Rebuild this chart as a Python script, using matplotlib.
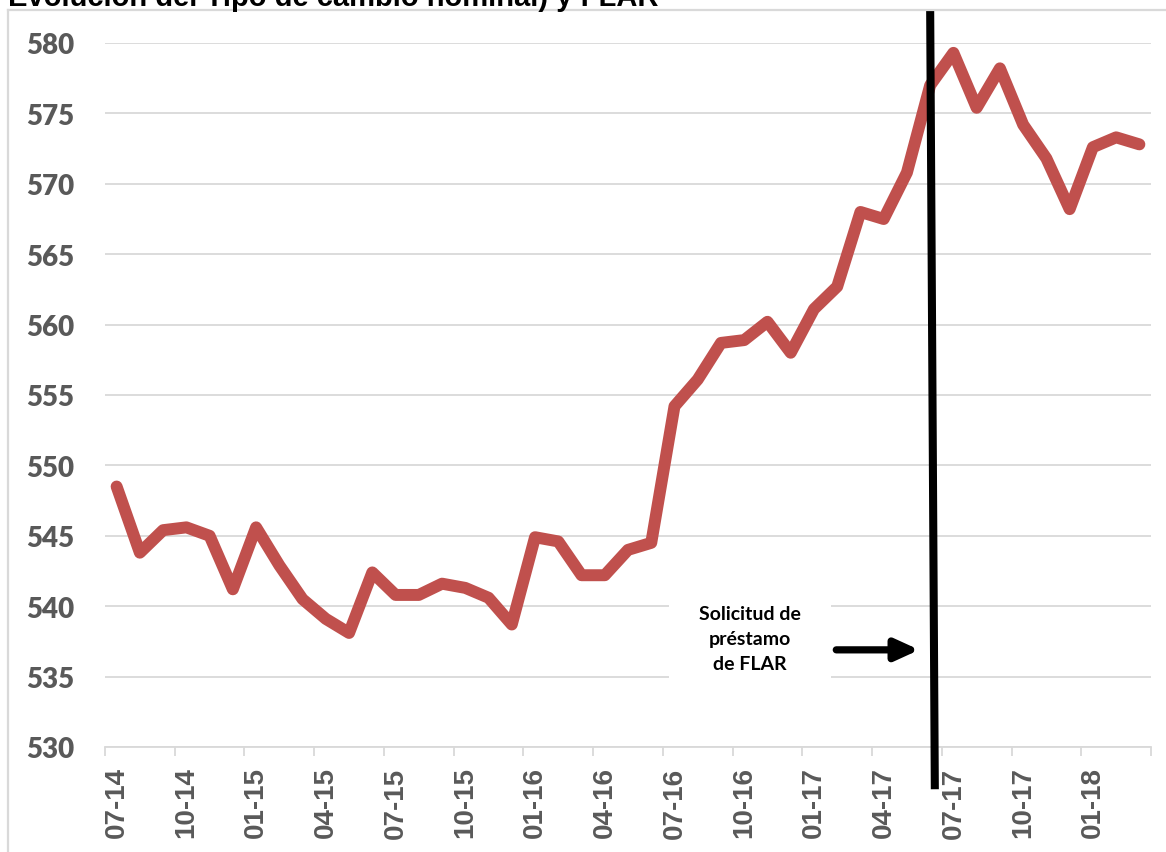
import matplotlib
matplotlib.use("Agg")
import matplotlib.pyplot as plt
from matplotlib.lines import Line2D
from matplotlib.ticker import FixedLocator, NullFormatter

# Monthly nominal exchange rate, Jul-2014 .. Mar-2018
months = [
    "07-14", "08-14", "09-14", "10-14", "11-14", "12-14",
    "01-15", "02-15", "03-15", "04-15", "05-15", "06-15",
    "07-15", "08-15", "09-15", "10-15", "11-15", "12-15",
    "01-16", "02-16", "03-16", "04-16", "05-16", "06-16",
    "07-16", "08-16", "09-16", "10-16", "11-16", "12-16",
    "01-17", "02-17", "03-17", "04-17", "05-17", "06-17",
    "07-17", "08-17", "09-17", "10-17", "11-17", "12-17",
    "01-18", "02-18", "03-18",
]
tipo_cambio = [
    548.5, 543.8, 545.4, 545.6, 545.0, 541.2,
    545.6, 542.9, 540.5, 539.1, 538.1, 542.4,
    540.8, 540.8, 541.6, 541.3, 540.6, 538.7,
    544.9, 544.6, 542.2, 542.2, 544.0, 544.5,
    554.2, 556.1, 558.7, 558.9, 560.2, 558.0,
    561.1, 562.7, 568.0, 567.5, 570.8, 577.0,
    579.3, 575.4, 578.2, 574.2, 571.8, 568.2,
    572.6, 573.3, 572.8,
]
y_ticks = [530, 535, 540, 545, 550, 555, 560, 565, 570, 575, 580]

title = "Evolución del Tipo de cambio nominal) y FLAR"
note = "Solicitud de\npréstamo\nde FLAR"

# Position of the FLAR loan request marker (category index of 06-17)
event_idx = months.index("06-17")

GRAY_TXT = "#595959"
GRID = "#D9D9D9"
RED = "#C0504D"

W, H = 1166, 853
fig = plt.figure(figsize=(W / 100, H / 100), dpi=100)
fig.patch.set_facecolor("white")

# Chart-area frame (left and top edges visible)
fig.add_artist(Line2D([8 / W, 8 / W], [0, (H - 11) / H], transform=fig.transFigure,
                      color=GRID, lw=1.6))
fig.add_artist(Line2D([8 / W, 1], [(H - 11) / H, (H - 11) / H], transform=fig.transFigure,
                      color=GRID, lw=1.6))

# Title, partly outside the canvas at the top
fig.text(8 / W, (H - 6) / H, title, family="Liberation Sans", weight="bold",
         fontsize=21, color="black", ha="left", va="baseline")

ax = fig.add_axes([105 / W, (H - 748) / H, 1046 / W, 704 / H])
n = len(months)
x = list(range(n))

ax.set_xlim(-0.5, n - 0.5)
ax.set_ylim(y_ticks[0], y_ticks[-1])

ax.plot(x, tipo_cambio, color=RED, lw=8.6, solid_joinstyle="round",
        solid_capstyle="round", zorder=3)

# Axes styling
for side in ("left", "right", "top"):
    ax.spines[side].set_visible(False)
ax.spines["bottom"].set_color(GRID)
ax.spines["bottom"].set_linewidth(1.3)
ax.spines["bottom"].set_zorder(1)

ax.set_yticks(y_ticks)
ax.set_yticklabels([str(v) for v in y_ticks], family="Lato", weight="heavy",
                   fontsize=20, color=GRAY_TXT)
ax.tick_params(axis="y", length=0, pad=22)
ax.yaxis.grid(True, color=GRID, lw=1.3, zorder=0)
ax.set_axisbelow(True)

label_idx = list(range(0, n, 3))
ax.set_xticks(label_idx)
ax.set_xticklabels([months[i] for i in label_idx], rotation=90,
                   family="Liberation Sans", weight="bold", fontsize=20,
                   color=GRAY_TXT)
ax.tick_params(axis="x", which="major", length=0, pad=14)
ax.xaxis.set_minor_locator(FixedLocator([i - 0.5 for i in range(0, n + 1, 3)]))
ax.xaxis.set_minor_formatter(NullFormatter())
ax.tick_params(axis="x", which="minor", length=6.5, width=1.3, color=GRID)

# Vertical marker for the loan request
ax.plot([event_idx, event_idx + 0.2], [582.3, 527.0], color="black", lw=5.8,
        solid_capstyle="butt", clip_on=False, zorder=5)

# Annotation box with arrow
ax.text(27.25, 537.7, note, family="Lato", weight="bold", fontsize=14,
        color="black", ha="center", va="center", linespacing=1.55,
        bbox=dict(boxstyle="square,pad=1.55", facecolor="white", edgecolor="none"),
        zorder=4)
ax.annotate("", xy=(34.53, 536.9), xytext=(30.96, 536.9),
            arrowprops=dict(arrowstyle="-|>,head_length=0.7,head_width=0.32",
                            mutation_scale=20, color="black", lw=5.2,
                            shrinkA=0, shrinkB=0),
            zorder=4)

fig.savefig("out.png", dpi=100, facecolor="white")
